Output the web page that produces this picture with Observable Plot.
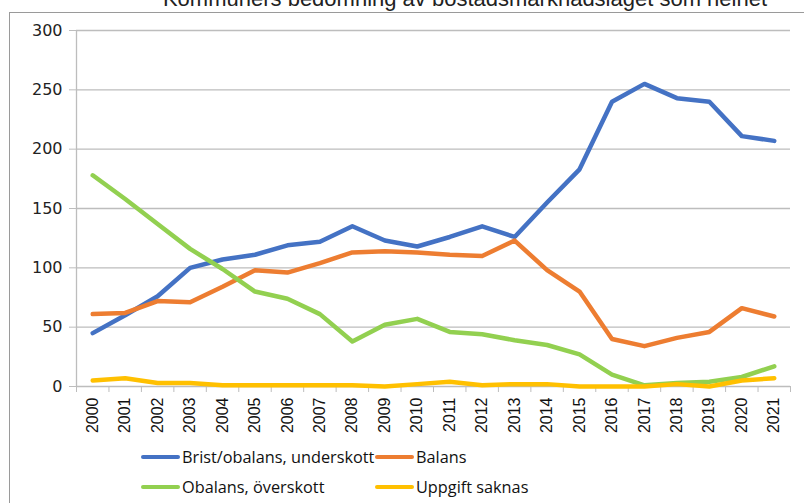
<!DOCTYPE html>
<html>
<head>
<meta charset="utf-8">
<script src="https://cdn.jsdelivr.net/npm/d3@7"></script>
<script src="https://cdn.jsdelivr.net/npm/@observablehq/plot@0.6"></script>
<style>
  html, body { margin: 0; padding: 0; background: #fff; }
  #wrap { position: relative; width: 804px; height: 503px; overflow: hidden; font-family: "Liberation Sans", Arial, sans-serif; }
  #frame { position: absolute; left: 9px; top: 12px; width: 820px; height: 520px; border-left: 1px solid #9a9a9a; border-top: 1px solid #9a9a9a; }
  #title { position: absolute; left: 0; width: 930px; top: -14px; text-align: center; font-size: 22px; color: #222; white-space: nowrap; }
  #chart { position: absolute; left: 0; top: 0; }
  .leg { position: absolute; font-family: "Open Sans", sans-serif; font-size: 16.3px; color: #111; display: flex; align-items: center; white-space: nowrap; }
  .sw { width: 39px; height: 4.5px; border-radius: 2px; margin-right: 2px; }
</style>
</head>
<body>
<div id="wrap">
  <div id="frame"></div>
  <div id="title">Kommuners bedömning av bostadsmarknadsläget som helhet</div>
  <div id="chart"></div>
  <div id="legend"></div>
</div>
<script>
const years = [2000,2001,2002,2003,2004,2005,2006,2007,2008,2009,2010,2011,2012,2013,2014,2015,2016,2017,2018,2019,2020,2021];
const brist = [45,60,76,100,107,111,119,122,135,123,118,126,135,126,155,183,240,255,243,240,211,207];
const balans = [61,62,72,71,84,98,96,104,113,114,113,111,110,123,98,80,40,34,41,46,66,59];
const overskott = [178,158,137,116,99,80,74,61,38,52,57,46,44,39,35,27,10,1,3,4,8,17];
const saknas = [5,7,3,3,1,1,1,1,1,0,2,4,1,2,2,0,0,0,2,0,5,7];
const seriesNames = ["Brist/obalans, underskott", "Balans", "Obalans, överskott", "Uppgift saknas"];
const seriesColors = ["#4472C4", "#ED7D31", "#92D050", "#FFC000"];
const yTicks = [0,50,100,150,200,250,300];

const allSeries = [brist, balans, overskott, saknas];
const data = [];
allSeries.forEach((vals, si) => {
  vals.forEach((v, i) => data.push({year: years[i], value: v, series: seriesNames[si]}));
});
const boundaries = [...years.map(y => y - 0.5), years[years.length - 1] + 0.5];
const xDomain = [years[0] - 0.5, years[years.length - 1] + 0.5];

const plot = Plot.plot({
  width: 804,
  height: 440,
  marginLeft: 76,
  marginRight: 14,
  marginTop: 30,
  marginBottom: 54,
  style: { fontFamily: "Liberation Sans, Arial, sans-serif", background: "transparent" },
  x: { domain: xDomain, type: "linear" },
  y: { domain: [0, 300] },
  color: { domain: seriesNames, range: seriesColors },
  marks: [
    Plot.ruleY(yTicks, { stroke: "#BDBDBD", strokeWidth: 1.3 }),
    Plot.ruleX([xDomain[0]], { stroke: "#BDBDBD", strokeWidth: 1.3, y1: 0, y2: 300 }),
    Plot.axisY(yTicks, { tickSize: 7, tickPadding: 7, stroke: "#BDBDBD", fontSize: 16, fontFamily: "DejaVu Sans, sans-serif", fill: "#222", label: null }),
    Plot.axisX(boundaries, { tickSize: 6, tickFormat: () => "", stroke: "#BDBDBD", label: null }),
    Plot.axisX(years, { tickSize: 0, tickPadding: 11, tickRotate: -90, tickFormat: d => String(d), fontSize: 16, fill: "#111", label: null }),
    Plot.line(data, { x: "year", y: "value", z: "series", stroke: "series", strokeWidth: 4.5, strokeLinejoin: "round", strokeLinecap: "round" })
  ]
});
document.getElementById("chart").appendChild(plot);

const legendPos = [[141, 457], [375, 457], [141, 487], [375, 487]];
const legend = document.getElementById("legend");
seriesNames.forEach((name, i) => {
  const d = document.createElement("div");
  d.className = "leg";
  d.style.left = legendPos[i][0] + "px";
  d.style.top = (legendPos[i][1] - 11) + "px";
  d.style.height = "22px";
  const sw = document.createElement("div");
  sw.className = "sw";
  sw.style.background = seriesColors[i];
  const t = document.createElement("span");
  t.textContent = name;
  d.appendChild(sw); d.appendChild(t);
  legend.appendChild(d);
});
</script>
</body>
</html>
